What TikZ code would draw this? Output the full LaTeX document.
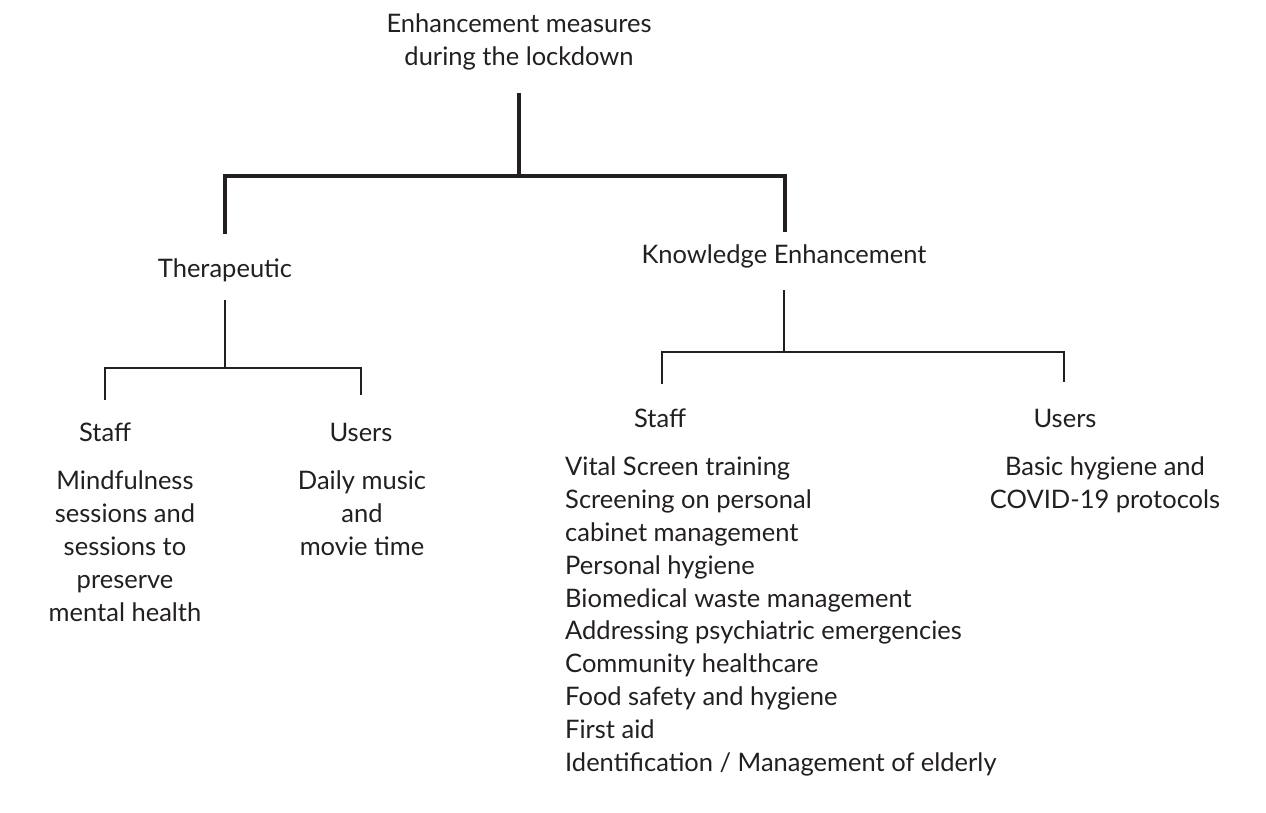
\documentclass[tikz,border=0pt]{standalone}
\usepackage{fontspec}
\setmainfont{Lato}
\definecolor{ink}{HTML}{231F20}
\begin{document}
\begin{tikzpicture}[x=1pt,y=-1pt,
  txt/.style={inner sep=0pt,text=ink,font=\fontsize{25.5}{32.8}\selectfont,align=center,anchor=center},
  lst/.style={txt,align=left,anchor=north west},
  thickln/.style={draw=ink,line width=4pt},
  thinln/.style={draw=ink,line width=2pt}]
\useasboundingbox (0,0) rectangle (1266,812);
% nodes
\node[txt] (root) at (519,42) {Enhancement measures\\during the lockdown};
\node[txt] (ther) at (225,270) {Therapeutic};
\node[txt] (know) at (784,256) {Knowledge Enhancement};
\node[txt] (tstaff) at (105,432) {Staff};
\node[txt] (tusers) at (361,432) {Users};
\node[txt,anchor=north] (tstaffd) at (125,471) {Mindfulness\\sessions and\\sessions to\\preserve\\mental health};
\node[txt,anchor=north] (tusersd) at (362,471) {Daily music\\and\\movie time};
\node[txt] (kstaff) at (660,418) {Staff};
\node[txt] (kusers) at (1065,418) {Users};
\node[txt,anchor=north] (kusersd) at (1105,457) {Basic hygiene and\\COVID-19 protocols};
\node[lst] (kstaffd) at (565,457) {Vital Screen training\\Screening on personal\\cabinet management\\Personal hygiene\\Biomedical waste management\\Addressing psychiatric emergencies\\Community healthcare\\Food safety and hygiene\\First aid\\Identification / Management of elderly};
% junction coordinates
\coordinate (r0) at (519,93);
\coordinate (r1) at (519,176);
\coordinate (rl) at (225,234);
\coordinate (rr) at (785,232);
\coordinate (t0) at (225,300);
\coordinate (t1) at (225,368);
\coordinate (tl) at (105,400);
\coordinate (tr) at (361,395);
\coordinate (k0) at (784,290);
\coordinate (k1) at (784,352);
\coordinate (kl) at (662,384);
\coordinate (kr) at (1064,382);
% connectors
\draw[thickln] (r0) -- (r1);
\draw[thickln] (rl) |- (r1) -| (rr);
\draw[thinln] (t0) -- (t1);
\draw[thinln] (tl) |- (t1) -| (tr);
\draw[thinln] (k0) -- (k1);
\draw[thinln] (kl) |- (k1) -| (kr);
\end{tikzpicture}
\end{document}
